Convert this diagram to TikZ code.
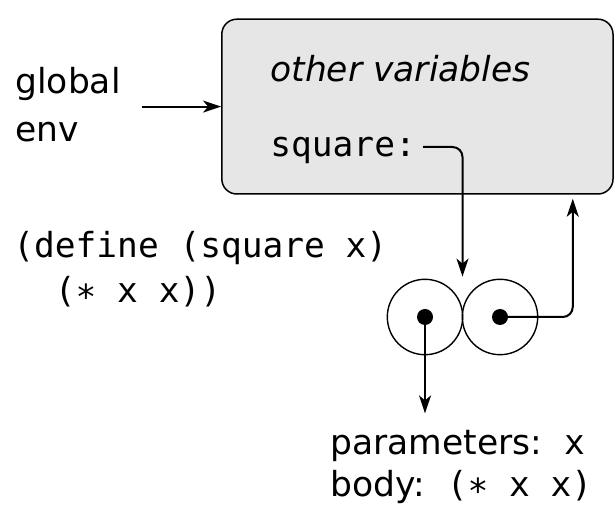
\documentclass[tikz,border=0pt]{standalone}
\usepackage{fontspec}
\setmainfont{DejaVu Sans}
\setmonofont{DejaVu Sans Mono}
\usetikzlibrary{arrows.meta, calc}
\definecolor{envgray}{RGB}{230, 230, 230}

\begin{document}
\begin{tikzpicture}[x=0.5pt, y=0.5pt,
            % Same font size for every label
            font=\fontsize{17.25}{20}\selectfont,
            % Styles for the frame, the pair and the pointers
            frame/.style={draw=black, fill=envgray, line width=0.75pt, rounded corners=7.5pt, inner sep=0pt},
            half/.style={circle, draw=black, line width=0.7pt, minimum size=37.7pt, inner sep=0pt},
            word/.style={anchor=base west, inner sep=0pt},
            pointer/.style={-{Stealth[length=9pt, width=6pt, inset=2.5pt]}, line width=1pt, rounded corners=5pt}
        ]
        \useasboundingbox (0,0) rectangle (614,518);

        % The global frame and its bindings
        \node[frame, minimum width=195.6pt, minimum height=87.4pt] (env) at (417.4, 411.4) {};
        \node[word] (others) at (270, 436) {\itshape other variables};
        \node[word] (sq) at (270, 361) {\ttfamily square:};

        \node[word] (global) at (15, 424) {global};
        \node[word] (genv) at (15, 376) {env};

        \node[word] (code1) at (13, 260) {\ttfamily (define (square x)};
        \node[word] (code2) at (13, 215) {\ttfamily\ \ (∗ x x))};

        % The procedure object
        \node[half] (lc) at (425, 201) {};
        \node[half] (rc) at (500, 201) {};
        \foreach \c in {lc, rc} {
            \fill (\c.center) circle (4pt);
        }
        \coordinate (pair) at ($(lc.north)!0.5!(rc.north)$);

        \node[word] (ptext) at (330, 63) {parameters:\ \ \texttt{x}};
        \node[word] (btext) at (330, 21) {body:\ \ \texttt{(∗ x x)}};

        % Pointers
        \draw[pointer] ([xshift=-39.5pt]env.west) -- (env.west);
        \draw[pointer, shorten >=1pt] ([shift={(3.5pt,5pt)}]sq.base east) -| (pair);
        \draw[pointer] (lc.center) -- ([yshift=8.5pt]lc.center |- ptext.north);
        \draw[pointer, shorten >=2pt] (rc.center) -| ([xshift=-20.5pt]env.south east);

\end{tikzpicture}
\end{document}
